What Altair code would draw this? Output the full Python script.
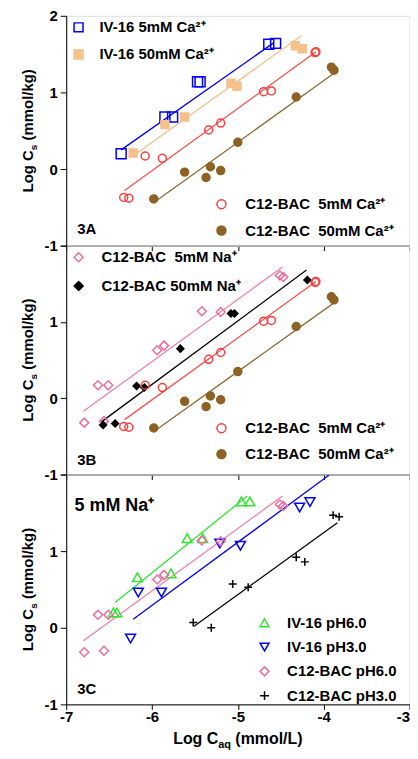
import altair as alt
import pandas as pd

# ---------------- data ----------------
X_TICKS = [-7, -6, -5, -4, -3]
Y_TICKS = [-1, 0, 1, 2]

# IV-16, 5 mM Ca2+
iv16_5ca_x = [-6.36, -5.85, -5.76, -5.47, -5.44, -4.64, -4.56]
iv16_5ca_y = [0.20, 0.68, 0.68, 1.14, 1.14, 1.63, 1.64]
# IV-16, 50 mM Ca2+
iv16_50ca_x = [-6.22, -5.85, -5.62, -5.08, -5.01, -4.33, -4.25]
iv16_50ca_y = [0.21, 0.58, 0.68, 1.12, 1.08, 1.61, 1.57]
# C12-BAC, 5 mM Ca2+
bac_5ca_x = [-6.33, -6.27, -6.08, -5.88, -5.34, -5.20, -4.70, -4.61, -4.10, -4.09]
bac_5ca_y = [-0.37, -0.38, 0.17, 0.14, 0.51, 0.60, 1.01, 1.02, 1.52, 1.53]
# C12-BAC, 50 mM Ca2+
bac_50ca_x = [-5.98, -5.62, -5.37, -5.32, -5.20, -5.00, -4.32, -3.91, -3.88]
bac_50ca_y = [-0.39, -0.04, -0.11, 0.03, -0.02, 0.35, 0.94, 1.33, 1.29]
# C12-BAC, 5 mM Na+ (= pH 6.0)
bac_5na_x = [-6.79, -6.56, -6.63, -6.51, -5.94, -5.86, -5.42, -5.20, -4.51, -4.47]
bac_5na_y = [-0.32, -0.30, 0.17, 0.17, 0.63, 0.69, 1.14, 1.13, 1.61, 1.59]
# C12-BAC, 50 mM Na+
bac_50na_x = [-6.57, -6.43, -6.18, -6.09, -5.67, -5.08, -5.04, -4.19]
bac_50na_y = [-0.35, -0.33, 0.16, 0.14, 0.65, 1.11, 1.11, 1.55]
# IV-16 pH 6.0
iv16_ph6_x = [-6.45, -6.41, -6.17, -5.78, -5.59, -5.41, -4.96, -4.86]
iv16_ph6_y = [0.20, 0.20, 0.66, 0.71, 1.17, 1.17, 1.65, 1.65]
# IV-16 pH 3.0
iv16_ph3_x = [-6.25, -6.16, -5.89, -5.21, -4.97, -4.28, -4.16]
iv16_ph3_y = [-0.14, 0.46, 0.46, 1.10, 1.07, 1.57, 1.64]
# C12-BAC pH 3.0
bac_ph3_x = [-5.52, -5.31, -5.06, -4.88, -4.32, -4.22, -3.89, -3.82]
bac_ph3_y = [0.07, 0.00, 0.57, 0.53, 0.92, 0.86, 1.47, 1.45]

# fitted lines: start/end points
fit_iv16_5ca_x, fit_iv16_5ca_y = [-6.36, -4.58], [0.25, 1.65]
fit_iv16_50ca_x, fit_iv16_50ca_y = [-6.21, -4.26], [0.18, 1.74]
fit_bac_5ca_x, fit_bac_5ca_y = [-6.32, -4.09], [-0.28, 1.53]
fit_bac_50ca_x, fit_bac_50ca_y = [-5.97, -3.88], [-0.43, 1.25]
fit_bac_5na_x, fit_bac_5na_y = [-6.80, -4.48], [-0.17, 1.72]
fit_bac_50na_x, fit_bac_50na_y = [-6.59, -4.20], [-0.31, 1.68]
fit_iv16_ph6_x, fit_iv16_ph6_y = [-6.43, -4.89], [0.33, 1.72]
fit_iv16_ph3_x, fit_iv16_ph3_y = [-6.22, -3.94], [0.11, 1.99]
fit_bac_ph3_x, fit_bac_ph3_y = [-5.51, -3.84], [0.02, 1.37]

# ---------------- styling ----------------
FONT = "Liberation Sans"
W = 345
HA, HB, HC = 231, 230, 231
NB = "\u00a0"

BLUE = "#0000FF"
TAN = "#F5C08A"
RED = "#FF3B3B"
BROWN = "#8E6124"
PINK = "#EF6C9C"
GREEN = "#2EE62E"
BLACK = "#000000"
PLUS = "M-1,0L1,0M0,-1L0,1"

def make_series(name, xs, ys, shape, stroke, fill, size):
    return dict(name=name, x=xs, y=ys, shape=shape, stroke=stroke, fill=fill, size=size)

S_IV5CA = make_series("IV-16 5mM Ca²⁺", iv16_5ca_x, iv16_5ca_y, "square", BLUE, "transparent", 100)
S_IV50CA = make_series("IV-16 50mM Ca²⁺", iv16_50ca_x, iv16_50ca_y, "square", TAN, TAN, 64)
S_B5CA = make_series("C12-BAC" + NB + NB + "5mM Ca²⁺", bac_5ca_x, bac_5ca_y, "circle", RED, "transparent", 64)
S_B50CA = make_series("C12-BAC" + NB + NB + "50mM Ca²⁺", bac_50ca_x, bac_50ca_y, "circle", BROWN, BROWN, 64)
S_B5NA = make_series("C12-BAC" + NB + NB + "5mM Na⁺", bac_5na_x, bac_5na_y, "diamond", PINK, "transparent", 81)
S_B50NA = make_series("C12-BAC 50mM Na⁺", bac_50na_x, bac_50na_y, "diamond", BLACK, BLACK, 49)
S_IVPH6 = make_series("IV-16 pH6.0", iv16_ph6_x, iv16_ph6_y, "triangle-up", GREEN, "transparent", 100)
S_IVPH3 = make_series("IV-16 pH3.0", iv16_ph3_x, iv16_ph3_y, "triangle-down", BLUE, "transparent", 100)
S_BPH6 = make_series("C12-BAC pH6.0", bac_5na_x, bac_5na_y, "diamond", PINK, "transparent", 81)
S_BPH3 = make_series("C12-BAC pH3.0", bac_ph3_x, bac_ph3_y, PLUS, BLACK, "transparent", 64)


def x_enc(show_labels):
    return alt.X("x:Q", scale=alt.Scale(domain=[-7, -3], nice=False, zero=False),
                 axis=alt.Axis(values=X_TICKS, labels=show_labels, title=None, grid=False,
                               tickSize=5, labelPadding=0, labelFlush=False, labelOverlap=False,
                               labelAlign={"condition": {"test": "datum.value == -3", "value": "right"},
                                           "value": "center"},
                               labelExpr="'' + datum.value", labelFont=FONT, labelFontSize=15,
                               labelFontWeight="bold", labelColor="black", domainColor="black",
                               tickColor="black", domainWidth=1, tickWidth=1))


def y_enc(hide_top):
    expr = "datum.value == 2 ? '' : '' + datum.value" if hide_top else "'' + datum.value"
    return alt.Y("y:Q", scale=alt.Scale(domain=[-1, 2], nice=False, zero=False),
                 axis=alt.Axis(values=Y_TICKS, title=None, grid=False, tickSize=6, labelPadding=3,
                               labelFlush=False, labelOverlap=False, labelExpr=expr, labelFont=FONT,
                               labelFontSize=15, labelFontWeight="bold", labelColor="black",
                               domainColor="black", tickColor="black", domainWidth=1, tickWidth=1))


def line_layer(xs, ys, color, X, Y):
    df = pd.DataFrame({"x": xs, "y": ys})
    return alt.Chart(df).mark_line(color=color, strokeWidth=1.3).encode(x=X, y=Y)


def group_layer(series, X, Y, lx, ly, row_pad, label_off):
    names = [s["name"] for s in series]
    leg = alt.Legend(title=None, orient="none", legendX=lx, legendY=ly, padding=0,
                     rowPadding=row_pad, labelOffset=label_off, labelFont=FONT, labelFontSize=15,
                     labelFontWeight="bold", labelColor="black", labelLimit=400,
                     symbolSize=81, symbolStrokeWidth=1.5)
    shape_sc = alt.Scale(domain=names, range=[s["shape"] for s in series])
    stroke_sc = alt.Scale(domain=names, range=[s["stroke"] for s in series])
    fill_sc = alt.Scale(domain=names, range=[s["fill"] for s in series])
    layers = []
    for s in series:
        df = pd.DataFrame({"x": s["x"], "y": s["y"], "series": s["name"]})
        layers.append(
            alt.Chart(df).mark_point(opacity=1, strokeWidth=1.5, size=s["size"]).encode(
                x=X, y=Y,
                shape=alt.Shape("series:N", scale=shape_sc, legend=leg),
                stroke=alt.Stroke("series:N", scale=stroke_sc, legend=leg),
                fill=alt.Fill("series:N", scale=fill_sc, legend=leg),
            )
        )
    return alt.layer(*layers)


def text_layer(txt, x, y, size=15, align="left", baseline="middle", angle=0, dy=0):
    df = pd.DataFrame({"t": [txt]})
    return alt.Chart(df).mark_text(font=FONT, fontSize=size, fontWeight="bold", color="black",
                                   align=align, baseline=baseline, angle=angle, dy=dy).encode(
        text="t:N", x=alt.value(x), y=alt.value(y))


def y_title(h):
    # "Log C" + subscript "s" + " (mmol/kg)", rotated
    start = h / 2 + 62
    bx = -33.8
    return [
        text_layer("Log C", bx, start, 15, "left", "alphabetic", 270),
        text_layer("s", bx, start - 42.5, 10, "left", "alphabetic", 270, dy=4),
        text_layer("(mmol/kg)", bx, start - 52.3, 15, "left", "alphabetic", 270),
    ]


# ---------------- panel 3A ----------------
XA, YA = x_enc(False), y_enc(False)
panel_a = alt.layer(
    line_layer(fit_iv16_5ca_x, fit_iv16_5ca_y, BLUE, XA, YA),
    line_layer(fit_iv16_50ca_x, fit_iv16_50ca_y, "#F2BF8C", XA, YA),
    line_layer(fit_bac_5ca_x, fit_bac_5ca_y, "#FF4D4D", XA, YA),
    line_layer(fit_bac_50ca_x, fit_bac_50ca_y, "#8B6A35", XA, YA),
    group_layer([S_IV5CA, S_IV50CA], XA, YA, 4.9, 4.1, 11.2, 13.5),
    group_layer([S_B5CA, S_B50CA], XA, YA, 148.5, 181.8, 10.5, 16.5),
    text_layer("3A", 11, HA - 17),
    *y_title(HA),
).resolve_scale(shape="independent", stroke="independent", fill="independent").properties(width=W, height=HA)

# ---------------- panel 3B ----------------
XB, YB = x_enc(False), y_enc(True)
panel_b = alt.layer(
    line_layer(fit_bac_5na_x, fit_bac_5na_y, "#F080A8", XB, YB),
    line_layer(fit_bac_50na_x, fit_bac_50na_y, BLACK, XB, YB),
    line_layer(fit_bac_5ca_x, fit_bac_5ca_y, "#FF4D4D", XB, YB),
    line_layer(fit_bac_50ca_x, fit_bac_50ca_y, "#8B6A35", XB, YB),
    group_layer([S_B5NA, S_B50NA], XB, YB, 5, 4.2, 12.8, 15.5),
    group_layer([S_B5CA, S_B50CA], XB, YB, 148.5, 175.9, 10.1, 16.5),
    text_layer("3B", 11, HB - 15),
    *y_title(HB),
).resolve_scale(shape="independent", stroke="independent", fill="independent").properties(width=W, height=HB)

# ---------------- panel 3C ----------------
XC, YC = x_enc(True), y_enc(True)
xt_start = W / 2 - 65
panel_c = alt.layer(
    line_layer(fit_iv16_ph6_x, fit_iv16_ph6_y, GREEN, XC, YC),
    line_layer(fit_iv16_ph3_x, fit_iv16_ph3_y, BLUE, XC, YC),
    line_layer(fit_bac_5na_x, fit_bac_5na_y, "#F080A8", XC, YC),
    line_layer(fit_bac_ph3_x, fit_bac_ph3_y, BLACK, XC, YC),
    group_layer([S_IVPH6, S_IVPH3, S_BPH6, S_BPH3], XC, YC, 191.8, 141.5, 8.4, 15.2),
    text_layer("5 mM Na⁺", 8.4, 32, 18),
    text_layer("3C", 11, HC - 15),
    *y_title(HC),
    text_layer("Log C", xt_start, HC + 40, 16, "left", "alphabetic"),
    text_layer("aq", xt_start + 45.3, HC + 40, 11, "left", "alphabetic", dy=4),
    text_layer("(mmol/L)", xt_start + 62.5, HC + 40, 16, "left", "alphabetic"),
).resolve_scale(shape="independent", stroke="independent", fill="independent").properties(width=W, height=HC)

chart = alt.vconcat(panel_a, panel_b, panel_c, spacing=0, bounds="flush").resolve_scale(
    shape="independent", stroke="independent", fill="independent"
).properties(
    padding={"left": 11.5, "top": -2, "right": -0.5, "bottom": -0.7}
).configure_view(stroke="black", strokeWidth=1).configure(background="white")

chart.save("out.html", embed_options={"renderer": "svg", "actions": False})
